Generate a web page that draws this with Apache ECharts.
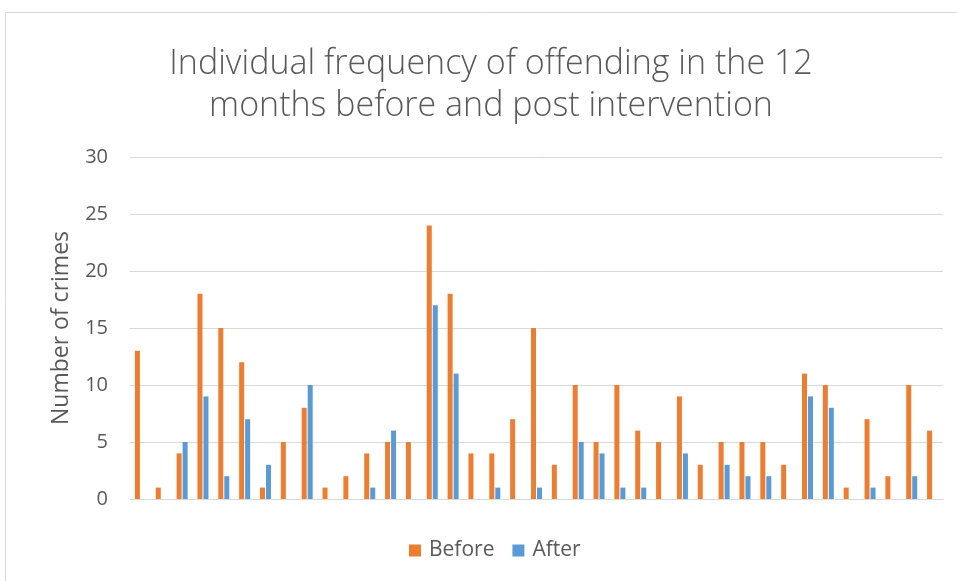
<!DOCTYPE html>
<html>
<head>
<meta charset="utf-8">
<script src="https://cdn.jsdelivr.net/npm/echarts@6/dist/echarts.min.js"></script>
<style>
  html, body { margin: 0; padding: 0; background: #fff; }
  #main { width: 957px; height: 581px; }
</style>
</head>
<body>
<div id="main"></div>
<script>
// 数据
const categories = Array.from({ length: 39 }, (_, i) => String(i + 1))
const before = [13, 1, 4, 18, 15, 12, 1, 5, 8, 1, 2, 4, 5, 5, 24, 18, 4, 4, 7, 15, 3, 10, 5, 10, 6, 5, 9, 3, 5, 5, 5, 3, 11, 10, 1, 7, 2, 10, 6]
const after = [0, 0, 5, 9, 2, 7, 3, 0, 10, 0, 0, 1, 6, 0, 17, 11, 0, 1, 0, 1, 0, 5, 4, 1, 1, 0, 4, 0, 3, 2, 2, 0, 9, 8, 0, 1, 0, 2, 0]
const yTicks = [0, 5, 10, 15, 20, 25, 30]

const textColor = '#595959'
const font = 'Open Sans'

// 初始化图表
const chart = echarts.init(document.getElementById('main'))

const options = {
  animation: false,
  graphic: [{
    type: 'rect',
    shape: { x: 5.5, y: 12.5, width: 960, height: 580 },
    style: { fill: 'none', stroke: '#d9d9d9', lineWidth: 1 },
    silent: true
  }],
  title: {
    text: 'Individual frequency of offending in the 12\nmonths before and post intervention',
    left: 486,
    top: 38,
    textAlign: 'center',
    textStyle: {
      color: textColor,
      fontFamily: font,
      fontWeight: 300,
      fontSize: 34,
      lineHeight: 42
    }
  },
  legend: {
    bottom: 15,
    left: 404,
    itemWidth: 12,
    itemHeight: 12,
    itemGap: 18,
    icon: 'rect',
    textStyle: { color: textColor, fontSize: 21, fontFamily: font, padding: [0, 0, 0, 3] },
    data: ['Before', 'After']
  },
  grid: { left: 130, right: 14, top: 157, bottom: 82 },
  xAxis: {
    type: 'category',
    data: categories,
    axisTick: { show: false },
    axisLabel: { show: false },
    axisLine: { lineStyle: { color: '#d9d9d9', width: 1 } }
  },
  yAxis: {
    type: 'value',
    min: yTicks[0],
    max: yTicks[yTicks.length - 1],
    interval: 5,
    name: 'Number of crimes',
    nameLocation: 'middle',
    nameGap: 57,
    nameTextStyle: { color: textColor, fontSize: 23, fontFamily: font },
    axisLabel: { color: textColor, fontSize: 20, fontFamily: font, margin: 22 },
    splitLine: { lineStyle: { color: '#d9d9d9', width: 1 } }
  },
  series: [
    {
      name: 'Before',
      type: 'bar',
      data: before,
      barWidth: 5,
      barGap: '20%',
      itemStyle: { color: '#ED7D31' }
    },
    {
      name: 'After',
      type: 'bar',
      data: after,
      barWidth: 5,
      itemStyle: { color: '#5B9BD5' }
    }
  ]
}

// 渲染图表
chart.setOption(options, true)
</script>
</body>
</html>
